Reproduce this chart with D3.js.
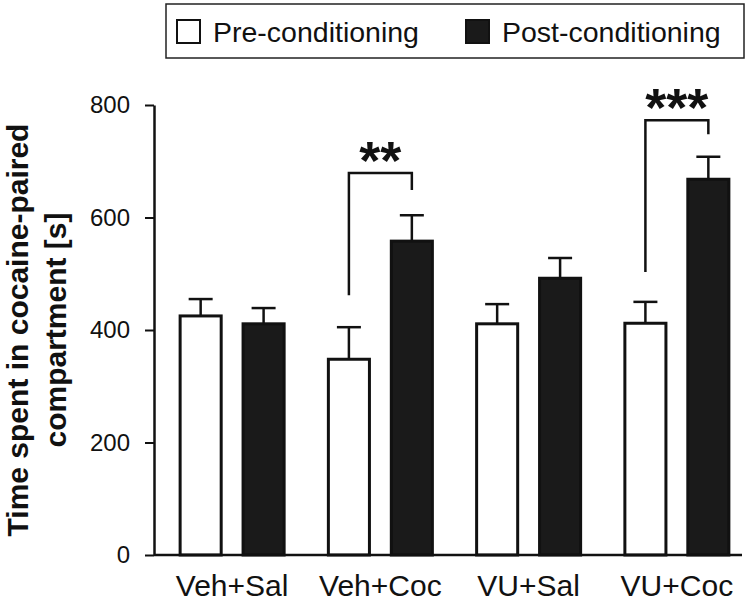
<!DOCTYPE html>
<html><head><meta charset="utf-8">
<script src="https://cdn.jsdelivr.net/npm/d3@7"></script>
<style>body{margin:0;background:#fff}svg{display:block}</style></head>
<body><svg id="c" width="750" height="602"></svg>
<script>
// ---- data ----
const groups = ["Veh+Sal", "Veh+Coc", "VU+Sal", "VU+Coc"];
const series = ["Pre-conditioning", "Post-conditioning"];
const preMean = [425, 348, 411, 412];
const preSEM = [30, 57, 35, 38];
const postMean = [411, 558, 492, 668];
const postSEM = [28, 46, 36, 40];
const yTicks = [0, 200, 400, 600, 800];
const sigGroups = ["Veh+Coc", "VU+Coc"];
const sigLabels = ["**", "***"];
const sigLeftEnd = [462, 503];
const sigTop = [679, 773];
const sigRightEnd = [649, 748];
const yTitleLines = ["Time spent in cocaine-paired", "compartment [s]"];

// ---- layout ----
const svg = d3.select("#c");
const font = "'Liberation Sans', Arial, Helvetica, sans-serif";
const ink = "#111";
const y = d3.scaleLinear().domain([0, 800]).range([555, 105]);
const x0 = d3.scaleBand().domain(groups).range([158, 751]).padding(0);
const bw = x0.bandwidth();
const x1 = d3.scaleBand().domain(series).range([bw / 2 - 53.5, bw / 2 + 53.5]).paddingInner(0.3);
const color = d3.scaleOrdinal().domain(series).range(["#ffffff", "#1a1a1a"]);

const rows = [];
groups.forEach((g, i) => {
  rows.push({g, s: series[0], m: preMean[i], e: preSEM[i]});
  rows.push({g, s: series[1], m: postMean[i], e: postSEM[i]});
});

// legend
const lg = svg.append("g");
lg.append("rect").attr("x", 166).attr("y", 4).attr("width", 578).attr("height", 54)
  .attr("fill", "none").attr("stroke", "#222").attr("stroke-width", 1.5);
const legX = [177, 466];
series.forEach((s, i) => {
  lg.append("rect").attr("x", legX[i]).attr("y", 20).attr("width", 23).attr("height", 23)
    .attr("fill", color(s)).attr("stroke", ink).attr("stroke-width", 2);
  lg.append("text").attr("x", legX[i] + 36).attr("y", 42).text(s)
    .attr("font-family", font).attr("font-size", 28.5).attr("fill", ink);
});

// error bars (behind bars)
const eb = svg.append("g").attr("stroke", ink).attr("stroke-width", 2.5);
rows.forEach(r => {
  const cx = x0(r.g) + x1(r.s) + x1.bandwidth() / 2;
  eb.append("line").attr("x1", cx).attr("x2", cx).attr("y1", y(r.m)).attr("y2", y(r.m + r.e));
  eb.append("line").attr("x1", cx - 12).attr("x2", cx + 12).attr("y1", y(r.m + r.e)).attr("y2", y(r.m + r.e));
});

// bars
svg.append("g").selectAll("rect").data(rows).join("rect")
  .attr("x", d => x0(d.g) + x1(d.s) + 1.5)
  .attr("width", x1.bandwidth() - 3)
  .attr("y", d => y(d.m))
  .attr("height", d => y(0) - y(d.m))
  .attr("fill", d => color(d.s))
  .attr("stroke", ink).attr("stroke-width", 3);

// y axis
const ya = svg.append("g").attr("transform", "translate(154,0)")
  .call(d3.axisLeft(y).tickValues(yTicks).tickSize(9).tickSizeOuter(0).tickPadding(15));
ya.select(".domain").attr("stroke", ink).attr("stroke-width", 2.5);
ya.selectAll(".tick line").attr("stroke", ink).attr("stroke-width", 2);
ya.selectAll(".tick text").attr("font-family", font).attr("font-size", 24).attr("fill", ink);

// x axis
const xa = svg.append("g").attr("transform", "translate(0,555)")
  .call(d3.axisBottom(x0).tickSize(0).tickPadding(21).tickSizeOuter(0));
xa.select(".domain").attr("d", "M154,0H742").attr("stroke", ink).attr("stroke-width", 2.5);
xa.selectAll(".tick text").attr("font-family", font).attr("font-size", 30).attr("fill", ink)
  .attr("dy", "0.68em");

// y title
const yt = svg.append("text").attr("transform", "translate(0,330) rotate(-90)")
  .attr("text-anchor", "middle").attr("font-family", font).attr("font-weight", "bold")
  .attr("font-size", 30).attr("fill", ink);
yt.append("tspan").attr("x", 0).attr("y", 28).text(yTitleLines[0]);
yt.append("tspan").attr("x", 0).attr("y", 66).text(yTitleLines[1]);

// significance brackets
const sg = svg.append("g");
sigGroups.forEach((g, i) => {
  const xl = x0(g) + x1(series[0]) + x1.bandwidth() / 2;
  const xr = x0(g) + x1(series[1]) + x1.bandwidth() / 2;
  sg.append("path")
    .attr("d", `M${xl},${y(sigLeftEnd[i])}V${y(sigTop[i])}H${xr}V${y(sigRightEnd[i])}`)
    .attr("fill", "none").attr("stroke", ink).attr("stroke-width", 2.5);
  sg.append("text").attr("x", (xl + xr) / 2).attr("y", y(sigTop[i]) + 6)
    .attr("text-anchor", "middle").attr("font-family", font).attr("font-weight", "bold")
    .attr("font-size", 54).attr("fill", ink).text(sigLabels[i]);
});
</script></body></html>
